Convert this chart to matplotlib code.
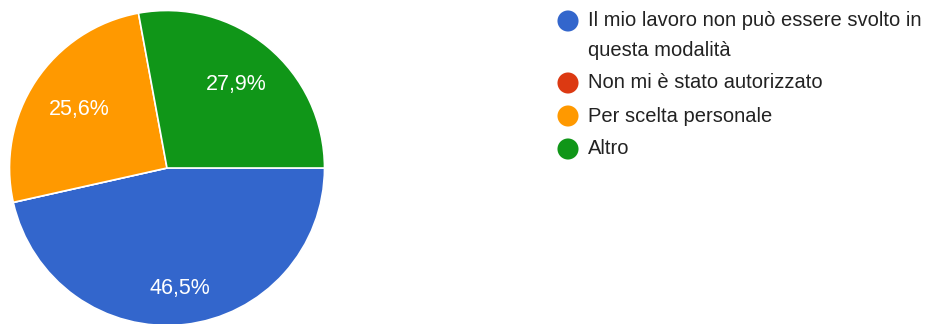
import numpy as np
import matplotlib.pyplot as plt

# Données
categories = ['Il mio lavoro non può essere svolto in\nquesta modalità',
              'Non mi è stato autorizzato',
              'Per scelta personale',
              'Altro']
percentuali = [46.5, 0.0, 25.6, 27.9]
colori = ['#3366cc', '#dc3912', '#ff9900', '#109618']

plt.rcParams['font.family'] = ['Liberation Sans', 'DejaVu Sans']

W, H = 943, 324
fig = plt.figure(figsize=(W / 100, H / 100), dpi=100)

# Camembert : centre (167, 168) px, rayon ~157 px
cx, cy, r = 167, 168, 157.5
ax = fig.add_axes([(cx - r) / W, (H - cy - r) / H, 2 * r / W, 2 * r / H])
wedges, _ = ax.pie(percentuali, colors=colori, startangle=0, counterclock=False,
                   radius=1, wedgeprops=dict(edgecolor='white', linewidth=1.2))
ax.set_xlim(-1, 1)
ax.set_ylim(-1, 1)
ax.set_aspect('equal')
ax.axis('off')

# Étiquettes de pourcentage (distance propre à chaque part, comme Google Forms)
distances = [0.77, 0.7, 0.67, 0.69]
for w, val, d in zip(wedges, percentuali, distances):
    if val <= 0:
        continue
    ang = np.deg2rad((w.theta1 + w.theta2) / 2)
    ax.text(d * np.cos(ang), d * np.sin(ang), f'{val:.1f}%'.replace('.', ','),
            color='white', fontsize=15.5, ha='center', va='center')

# Légende dessinée à la main (coordonnées en pixels)
leg = fig.add_axes([0, 0, 1, 1])
leg.set_xlim(0, W)
leg.set_ylim(H, 0)
leg.axis('off')

y = 21
for lab, col in zip(categories, colori):
    leg.scatter([568], [y], s=230, color=col, edgecolors='none')
    lignes = lab.split('\n')
    for k, ligne in enumerate(lignes):
        leg.text(588, y + 29 * k, ligne, fontsize=14.5, color='#222222',
                 ha='left', va='center')
    y += 33 + 29 * (len(lignes) - 1)

plt.savefig('out.png', dpi=100)
